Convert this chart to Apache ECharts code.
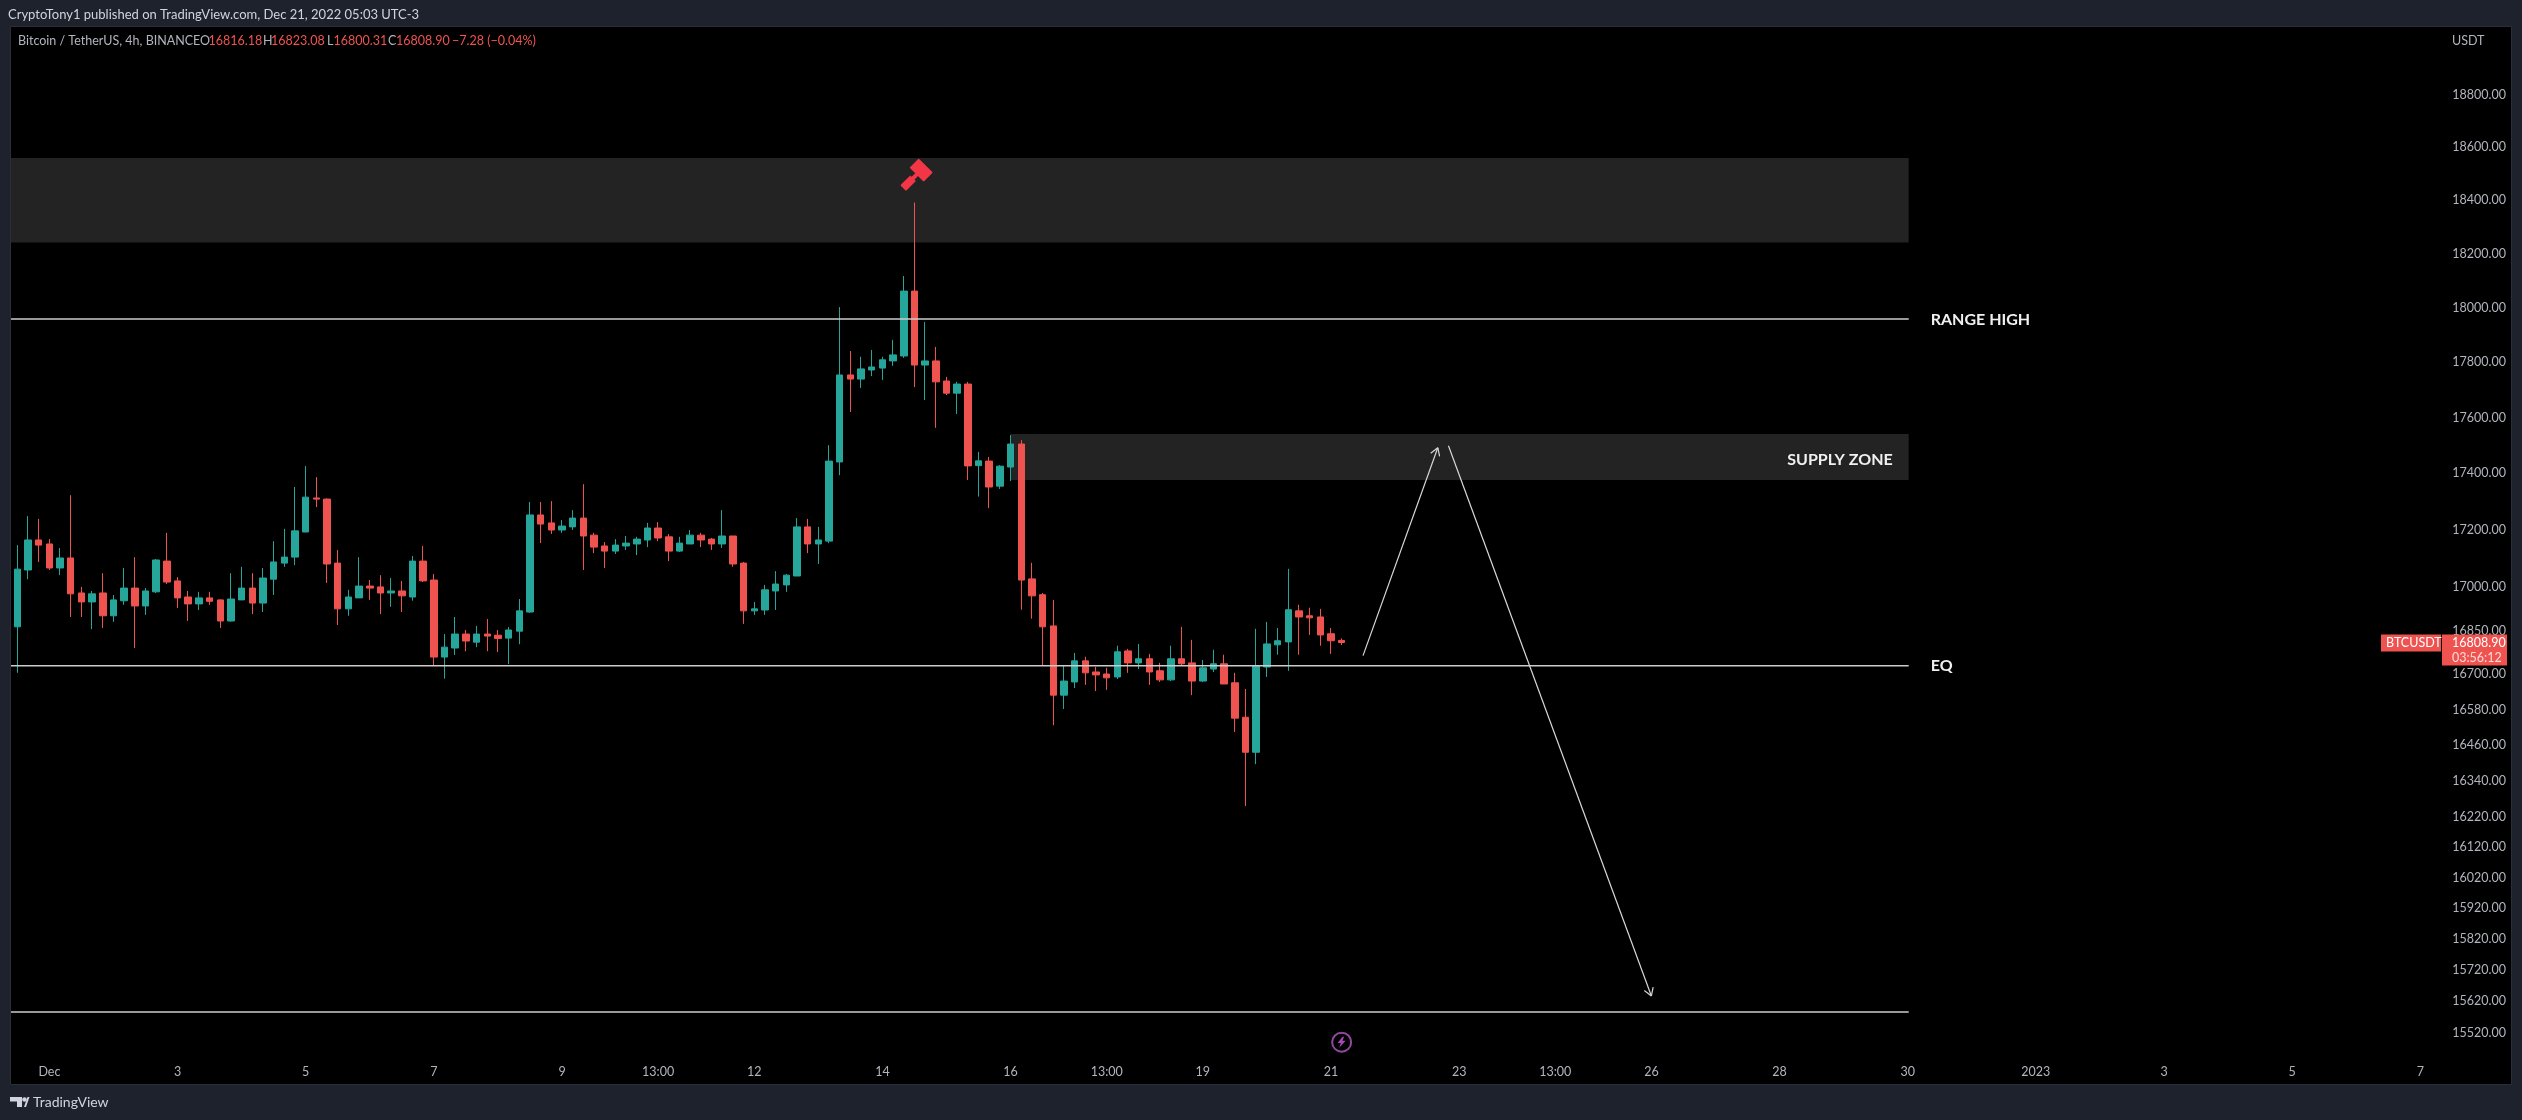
<!DOCTYPE html>
<html><head><meta charset="utf-8">
<style>html,body{margin:0;padding:0;background:#1e222d;overflow:hidden}#c{width:2522px;height:1120px}</style>
<script src="https://cdn.jsdelivr.net/npm/echarts@6/dist/echarts.min.js"></script>
</head><body><div id="c"></div>
<script>
// [open, close, low, high] per 4h bar, bar 0 .. 124
const ohlc = [
[16863,17063,16705,17147],[17060,17165,17028,17249],[17165,17147,17088,17239],[17151,17067,17060,17168],[17067,17102,17042,17137],
[17102,16977,16897,17323],[16980,16949,16897,17001],[16949,16977,16855,16987],[16980,16901,16859,17049],[16901,16956,16880,16973],
[16953,16997,16939,17067],[16997,16935,16790,17105],[16935,16987,16904,16997],[16984,17095,16980,17098],[17091,17018,17011,17190],
[17022,16963,16928,17035],[16966,16942,16883,16987],[16942,16963,16921,16984],[16963,16951,16939,16984],[16956,16883,16859,16958],
[16883,16959,16881,17049],[16956,16997,16956,17071],[16997,16945,16907,17049],[16945,17032,16914,17067],[17028,17088,16973,17161],
[17084,17105,17071,17204],[17105,17197,17077,17352],[17193,17316,17193,17426],[17313,17309,17281,17387],[17309,17081,17015,17312],
[17084,16925,16869,17130],[16925,16966,16901,16991],[16963,17004,16963,17105],[17004,16997,16956,17025],[17001,16980,16907,17042],
[16980,16987,16932,17032],[16987,16970,16914,17022],[16966,17091,16953,17109],[17091,17022,17018,17144],[17025,16759,16728,17046],
[16759,16793,16685,16838],[16790,16838,16766,16897],[16838,16814,16779,16852],[16810,16838,16793,16866],[16838,16831,16779,16890],
[16834,16823,16776,16852],[16824,16852,16735,16862],[16848,16918,16803,16959],[16914,17253,16911,17299],[17253,17221,17154,17299],
[17225,17200,17186,17302],[17200,17214,17190,17235],[17211,17242,17200,17270],[17242,17179,17060,17362],[17182,17140,17119,17190],
[17144,17126,17067,17158],[17126,17147,17116,17168],[17144,17154,17130,17179],[17151,17168,17112,17176],[17165,17207,17140,17225],
[17207,17172,17161,17228],[17176,17126,17091,17186],[17126,17154,17123,17176],[17151,17182,17151,17200],[17182,17165,17140,17190],
[17168,17151,17130,17172],[17151,17179,17137,17270],[17179,17081,17071,17179],[17084,16918,16873,17088],[16918,16925,16904,16949],
[16921,16991,16904,17008],[16987,17011,16921,17056],[17008,17042,16984,17046],[17039,17211,17039,17242],[17211,17151,17119,17239],
[17151,17165,17081,17211],[17161,17444,17154,17501],[17441,17754,17394,18002],[17754,17739,17620,17841],[17739,17776,17707,17820],
[17772,17783,17750,17845],[17779,17809,17736,17820],[17805,17827,17787,17882],[17823,18061,17816,18117],[18061,17790,17710,18391],
[17790,17805,17663,17947],[17805,17729,17563,17856],[17732,17688,17681,17747],[17688,17721,17613,17729],[17721,17427,17377,17729],
[17428,17445,17318,17477],[17444,17352,17277,17459],[17355,17426,17345,17430],[17423,17505,17373,17537],[17505,17025,16922,17519],
[17029,16970,16891,17085],[16974,16863,16729,16980],[16866,16629,16527,16956],[16629,16677,16582,16729],[16674,16746,16653,16773],
[16746,16705,16664,16760],[16708,16698,16643,16725],[16701,16688,16647,16722],[16691,16777,16684,16798],[16780,16739,16705,16787],
[16739,16753,16718,16804],[16753,16708,16664,16770],[16712,16681,16674,16739],[16681,16753,16677,16798],[16753,16736,16729,16863],
[16739,16677,16629,16818],[16677,16722,16674,16749],[16718,16736,16708,16784],[16736,16667,16667,16767],[16671,16551,16504,16705],
[16554,16436,16256,16650],[16436,16729,16396,16856],[16725,16804,16691,16880],[16801,16815,16767,16859],[16811,16922,16712,17064],
[16918,16897,16767,16939],[16901,16894,16835,16929],[16897,16835,16798,16925],[16839,16815,16770,16859],[16816.18,16808.90,16800.31,16823.08]
];
const barCount = 227;
const priceTicks = [18800,18600,18400,18200,18000,17800,17600,17400,17200,17000,16850,16700,16580,16460,16340,16220,16120,16020,15920,15820,15720,15620,15520];
const timeTickBars = [3,15,27,39,51,60,69,81,93,102,111,123,135,144,153,165,177,189,201,213,225];
const timeTickLabels = ['Dec','3','5','7','9','13:00','12','14','16','13:00','19','21','23','13:00','26','28','30','2023','3','5','7'];
// zones: [first bar, last bar, top price, bottom price]
const zones = [[-1,177,18559,18241],[93,177,17541,17377]];
// level lines: [first bar, last bar, price]
const levels = [[-1,177,17958],[-1,177,16729],[-1,177,15586]];
const levelNames = ['RANGE HIGH','EQ',''];
// arrows: [start bar, start price, end bar, end price]
const arrows = [[126,16764,133,17492],[134,17499,153,15637]];
const lastClose = 16808.90, lastBar = 124;
const hammerPoint = [84,18488], boltPoint = [124,15490];

const FONT = 'Lato,Roboto,sans-serif';
const AXIS = '#b2b5be', UP = '#26a69a', DOWN = '#ef5350';
const categories = Array.from({length:barCount},(_,i)=>String(i));
const tickMap = {}; timeTickBars.forEach((b,i)=>tickMap[b]=timeTickLabels[i]);

const txt = (text,x,y,fill,size,weight) => ({type:'text',z:20,style:{text,x,y,fill,font:(weight||'normal')+' '+size+'px '+FONT,textVerticalAlign:'middle'}});
const graphics = [
 {type:'rect',z:-1,shape:{x:10.5,y:26.5,width:2501,height:1058},style:{fill:'#000',stroke:'#2a2e39',lineWidth:1}},
 txt('CryptoTony1 published on TradingView.com, Dec 21, 2022 05:03 UTC-3',8,14.5,'#d1d4dc',13),
 txt('Bitcoin / TetherUS, 4h, BINANCE',18,41,'#b2b5be',12.5),
 txt('O',200,41,'#b2b5be',12.5), txt('16816.18',208.5,41,DOWN,12.5),
 txt('H',263,41,'#b2b5be',12.5), txt('16823.08',271,41,DOWN,12.5),
 txt('L',327,41,'#b2b5be',12.5), txt('16800.31',333.5,41,DOWN,12.5),
 txt('C',388,41,'#b2b5be',12.5), txt('16808.90',396,41,DOWN,12.5),
 txt('\u22127.28 (\u22120.04%)',452,41,DOWN,12.5),
 txt('USDT',2452,41,AXIS,12.5),
 {type:'polygon',z:20,shape:{points:[[10,1097],[22,1097],[22,1107],[17,1107],[17,1101.5],[10,1101.5]]},style:{fill:'#d1d4dc'}},
 {type:'circle',z:20,shape:{cx:24.5,cy:1099.5,r:2.3},style:{fill:'#d1d4dc'}},
 {type:'polygon',z:20,shape:{points:[[25,1107],[24,1107],[27.5,1097],[29.5,1097],[26,1107]]},style:{fill:'#d1d4dc'}},
 txt('TradingView',33,1102,'#d1d4dc',14)
];

const boldFont = 'bold 16px Lato,"Noto Sans",sans-serif';
const option = {
 animation:false, backgroundColor:'#1e222d', tooltip:{show:false},
 graphic:graphics,
 grid:{left:12,top:27,width:barCount*10.68,height:1028,containLabel:false},
 xAxis:{type:'category',data:categories,boundaryGap:true,
  axisLine:{show:false},axisTick:{show:false},splitLine:{show:false},
  axisLabel:{color:AXIS,fontFamily:FONT,fontSize:12.5,margin:10,hideOverlap:false,
   interval:(i)=>tickMap[i]!==undefined, formatter:(v,i)=>tickMap[i]||''}},
 yAxis:{type:'log',logBase:10,position:'right',min:15449.5,max:19063,scale:true,
  axisLine:{show:false},axisTick:{show:false},splitLine:{show:false},minorTick:{show:false},
  axisLabel:{color:AXIS,fontFamily:FONT,fontSize:12.5,margin:16,customValues:priceTicks,formatter:(v)=>Number(v).toFixed(2)}},
 series:[
  {type:'custom',name:'zones',z:1,data:zones,encode:{x:[0,1],y:[2,3]},silent:true,
   renderItem:(p,api)=>{const a=api.coord([api.value(0),api.value(2)]),b=api.coord([api.value(1),api.value(3)]);
    const x=Math.max(a[0],p.coordSys.x-1);
    const kids=[{type:'rect',shape:{x,y:a[1],width:b[0]+1-x,height:b[1]-a[1]},style:{fill:'#232323'}}];
    if(p.dataIndex===1) kids.push({type:'text',style:{text:'SUPPLY ZONE',x:b[0]-15,y:(a[1]+b[1])/2+3,align:'right',verticalAlign:'middle',fill:'#f0f0f0',font:boldFont}});
    return {type:'group',children:kids};}},
  {type:'candlestick',name:'BTCUSDT',z:2,data:ohlc,barWidth:7,
   itemStyle:{color:UP,color0:DOWN,borderColor:UP,borderColor0:DOWN,borderWidth:1}},
  {type:'custom',name:'levels',z:3,data:levels,encode:{x:[0,1],y:2},silent:true,
   renderItem:(p,api)=>{const a=api.coord([api.value(0),api.value(2)]),b=api.coord([api.value(1),api.value(2)]);
    const x=Math.max(a[0],p.coordSys.x-1);
    const kids=[{type:'line',shape:{x1:x,y1:a[1],x2:b[0]+1,y2:a[1]},style:{stroke:'#cccccc',lineWidth:1.5}}];
    const n=levelNames[p.dataIndex];
    if(n) kids.push({type:'text',style:{text:n,x:b[0]+23,y:a[1]+0.5,verticalAlign:'middle',fill:'#f0f0f0',font:boldFont}});
    return {type:'group',children:kids};}},
  {type:'custom',name:'arrows',z:4,data:arrows,encode:{x:[0,2],y:[1,3]},silent:true,
   renderItem:(p,api)=>{const a=api.coord([api.value(0),api.value(1)]),b=api.coord([api.value(2),api.value(3)]);
    const ang=Math.atan2(b[1]-a[1],b[0]-a[0]),L=9,S=0.55,st={stroke:'#d8d8d8',lineWidth:1.2};
    const seg=(x1,y1,x2,y2)=>({type:'line',shape:{x1,y1,x2,y2},style:st});
    return {type:'group',children:[seg(a[0],a[1],b[0],b[1]),
     seg(b[0],b[1],b[0]-L*Math.cos(ang-S),b[1]-L*Math.sin(ang-S)),
     seg(b[0],b[1],b[0]-L*Math.cos(ang+S),b[1]-L*Math.sin(ang+S))]};}},
  {type:'scatter',name:'hammer',z:5,silent:true,data:[hammerPoint],symbol:'path://M1 0H19Q20 0 20 1V12Q20 13 19 13H1Q0 13 0 12V1Q0 0 1 0Z M8 13H12V18H8Z M6 18H14V31Q14 32 13 32H7Q6 32 6 31Z',
   symbolSize:[20,32],symbolRotate:-45,itemStyle:{color:'#f23645',opacity:1}},
  {type:'scatter',name:'ring',z:5,silent:true,data:[boltPoint],symbol:'circle',symbolSize:19,itemStyle:{color:'transparent',borderColor:'#93479f',borderWidth:2,opacity:1}},
  {type:'scatter',name:'bolt',z:5,silent:true,data:[boltPoint],symbol:'path://M6 0L0 9H4L2 16L10 6H6L8 0Z',symbolSize:[8,11],itemStyle:{color:'#ab47bc',opacity:1}},
  {type:'custom',name:'priceTag',z:10,data:[[lastBar,lastClose]],encode:{x:0,y:1},silent:true,clip:false,
   renderItem:(p,api)=>{const y=api.coord([api.value(0),api.value(1)])[1];
    const t=(text,x,yy,fill)=>({type:'text',style:{text,x,y:yy,verticalAlign:'middle',fill,font:'12.5px '+FONT}});
    return {type:'group',children:[
     {type:'rect',shape:{x:2381,y:y-8,width:60,height:17},style:{fill:DOWN}},
     {type:'rect',shape:{x:2442,y:y-8,width:65,height:31},style:{fill:DOWN}},
     t('BTCUSDT',2386,y+0.5,'#ffffff'),t(lastClose.toFixed(2),2452,y+0.5,'#ffffff'),t('03:56:12',2452,y+15,'#ffd9d8')]};}}
 ]
};
echarts.init(document.getElementById('c'),null,{renderer:'canvas'}).setOption(option);
</script></body></html>
